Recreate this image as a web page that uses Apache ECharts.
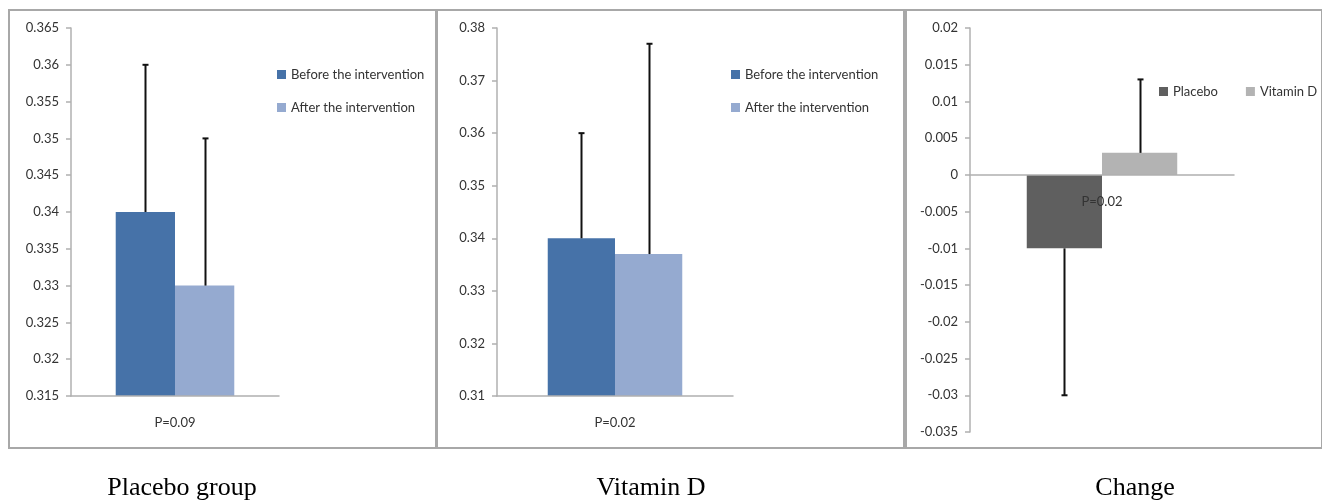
<!DOCTYPE html>
<html>
<head>
<meta charset="utf-8">
<script src="https://cdn.jsdelivr.net/npm/echarts@6/dist/echarts.min.js"></script>
<style>
  html, body { margin: 0; padding: 0; background: #fff; }
  #chart { width: 1322px; height: 503px; }
</style>
</head>
<body>
<div id="chart"></div>
<script>
// panel categories (the P values sit where the category label goes)
const placeboCats = ['P=0.09']
const vitdCats = ['P=0.02']
const changeCats = ['P=0.02']

// placebo group
const placeboBefore = [0.34]
const placeboAfter = [0.33]
const placeboBeforeErr = [0.02]
const placeboAfterErr = [0.02]

// vitamin D group
const vitdBefore = [0.34]
const vitdAfter = [0.337]
const vitdBeforeErr = [0.02]
const vitdAfterErr = [0.04]

// change
const changePlacebo = [-0.01]
const changeVitd = [0.003]
const changePlaceboErr = [0.02]
const changeVitdErr = [0.01]

const panelTitles = ['Placebo group', 'Vitamin D', 'Change']

const BEFORE = '#4672a8'
const AFTER = '#95aad0'
const DARK = '#5f5f5f'
const LIGHT = '#b3b3b3'
const AXIS = '#b0b0b0'
const GAP = 0.43

const chart = echarts.init(document.getElementById('chart'))

function fmt(v) {
  return String(parseFloat(v.toFixed(4)))
}

function xAxis(idx, cats, offset) {
  return {
    type: 'category',
    gridIndex: idx,
    data: cats,
    z: 5,
    offset: offset || 0,
    axisLine: { onZero: false, lineStyle: { color: AXIS, width: 1.5 } },
    axisTick: { length: 5, lineStyle: { color: AXIS, width: 1.5 } },
    axisLabel: { margin: 20, color: '#333', fontFamily: 'Lato', fontSize: 13 },
  }
}

function yAxis(idx, min, max, interval) {
  return {
    type: 'value',
    gridIndex: idx,
    min,
    max,
    interval,
    axisLine: { show: true, lineStyle: { color: AXIS, width: 1.5 } },
    axisTick: { show: true, length: 5, lineStyle: { color: AXIS, width: 1.5 } },
    axisLabel: { margin: 12, color: '#333', fontFamily: 'Lato', fontSize: 13, formatter: fmt },
    splitLine: { show: false },
  }
}

function bar(name, idx, data, color) {
  return {
    name,
    type: 'bar',
    xAxisIndex: idx,
    yAxisIndex: idx,
    data,
    barGap: '0%',
    barCategoryGap: GAP * 100 + '%',
    itemStyle: { color },
  }
}

// side: -1 = left bar of the pair, 1 = right bar
function errBar(idx, values, errs, side) {
  return {
    type: 'custom',
    xAxisIndex: idx,
    yAxisIndex: idx,
    z: 4,
    silent: true,
    data: values.map((v, i) => [i, v, v + Math.sign(v) * errs[i]]),
    renderItem(params, api) {
      const c = api.coord([api.value(0), api.value(1)])
      const e = api.coord([api.value(0), api.value(2)])
      const bw = (api.size([1, 0])[0] * (1 - GAP)) / 2
      const x = Math.round(c[0] + (side * bw) / 2) + 0.5
      const style = { stroke: '#111', lineWidth: 2 }
      return {
        type: 'group',
        children: [
          { type: 'line', shape: { x1: x, y1: c[1], x2: x, y2: e[1] }, style },
          { type: 'line', shape: { x1: x - 3, y1: e[1], x2: x + 3, y2: e[1] }, style },
        ],
      }
    },
  }
}

const legendText = { color: '#333', fontFamily: 'Lato', fontSize: 13 }
const legendBase = { itemWidth: 9, itemHeight: 9, icon: 'rect', padding: 0, textStyle: legendText, selectedMode: false }

// change panel: the category axis crosses at zero
const changeZeroOffset = -(404 * 0.035) / 0.055

chart.setOption({
  backgroundColor: '#fff',
  animation: false,
  grid: [
    { left: 71, top: 28, width: 208, height: 368 },
    { left: 497, top: 28, width: 236, height: 368 },
    { left: 970, top: 28, width: 264, height: 404 },
  ],
  legend: [
    {
      ...legendBase,
      data: ['Before the intervention', 'After the intervention'],
      orient: 'vertical', left: 277, top: 68, itemGap: 20,
    },
    {
      ...legendBase,
      data: ['Before the intervention', 'After the intervention'],
      orient: 'vertical', left: 731, top: 68, itemGap: 20,
    },
    {
      ...legendBase,
      data: ['Placebo', 'Vitamin D'],
      orient: 'horizontal', left: 1159, top: 85, width: 200, itemGap: 28,
    },
  ],
  xAxis: [xAxis(0, placeboCats), xAxis(1, vitdCats), xAxis(2, changeCats, changeZeroOffset)],
  yAxis: [
    yAxis(0, 0.315, 0.365, 0.005),
    yAxis(1, 0.31, 0.38, 0.01),
    yAxis(2, -0.035, 0.02, 0.005),
  ],
  series: [
    bar('Before the intervention', 0, placeboBefore, BEFORE),
    bar('After the intervention', 0, placeboAfter, AFTER),
    errBar(0, placeboBefore, placeboBeforeErr, -1),
    errBar(0, placeboAfter, placeboAfterErr, 1),
    bar('Before the intervention', 1, vitdBefore, BEFORE),
    bar('After the intervention', 1, vitdAfter, AFTER),
    errBar(1, vitdBefore, vitdBeforeErr, -1),
    errBar(1, vitdAfter, vitdAfterErr, 1),
    bar('Placebo', 2, changePlacebo, DARK),
    bar('Vitamin D', 2, changeVitd, LIGHT),
    errBar(2, changePlacebo, changePlaceboErr, -1),
    errBar(2, changeVitd, changeVitdErr, 1),
  ],
  graphic: [
    // panel frames
    { type: 'rect', shape: { x: 9, y: 10, width: 427, height: 438 }, style: { fill: 'none', stroke: '#a8a8a8', lineWidth: 2 } },
    { type: 'rect', shape: { x: 437, y: 10, width: 467, height: 438 }, style: { fill: 'none', stroke: '#a8a8a8', lineWidth: 2 } },
    { type: 'rect', shape: { x: 906, y: 10, width: 416, height: 438 }, style: { fill: 'none', stroke: '#a8a8a8', lineWidth: 2 } },
    // captions under the panels
    ...panelTitles.map((t, i) => ({
      type: 'text',
      x: [182, 651, 1135][i],
      y: 488,
      style: {
        text: t,
        fill: '#000',
        font: '26px "Liberation Serif"',
        textAlign: 'center',
        textVerticalAlign: 'middle',
      },
    })),
  ],
})
</script>
</body>
</html>
